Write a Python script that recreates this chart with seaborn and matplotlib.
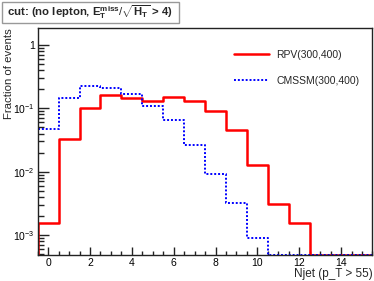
import numpy as np
import pandas as pd
import matplotlib
matplotlib.use("Agg")
import matplotlib.pyplot as plt
import matplotlib.ticker as mticker
from matplotlib.patches import Rectangle
import seaborn as sns

# Njet distribution, fraction of events per bin (bins centred on integers)
njet = list(range(16))
rpv = [0.00156, 0.0332, 0.100, 0.161, 0.146, 0.131, 0.151, 0.131,
       0.091, 0.045, 0.0126, 0.00313, 0.00156, 0.0, 0.0, 0.0]
cmssm = [0.0477, 0.146, 0.226, 0.210, 0.169, 0.110, 0.0656, 0.0264,
         0.0091, 0.00317, 0.000887, 0.0, 0.0, 0.0, 0.0, 0.0]
series_names = ["RPV(300,400)", "CMSSM(300,400)"]
ytick_vals = [1e-3, 1e-2, 1e-1, 1]
ytick_labels = ["$10^{-3}$", "$10^{-2}$", "$10^{-1}$", "1"]

sns.set_theme(style="ticks")
plt.rcParams["font.family"] = ["Liberation Sans", "DejaVu Sans"]
plt.rcParams["mathtext.fontset"] = "custom"
plt.rcParams["mathtext.rm"] = "Liberation Sans"
plt.rcParams["mathtext.it"] = "Liberation Sans:italic"
plt.rcParams["mathtext.bf"] = "Liberation Sans:bold"
plt.rcParams["xtick.minor.visible"] = True
plt.rcParams["ytick.minor.visible"] = True

ymin, ymax = 4.83e-4, 1.86

df = pd.DataFrame({"njet": njet, "rpv": rpv, "cmssm": cmssm})
# empty bins sit on the lower frame, as in ROOT
df["rpv_draw"] = df["rpv"].clip(lower=ymin)
df["cmssm_draw"] = df["cmssm"].clip(lower=ymin)

fig = plt.figure(figsize=(3.74, 2.81), dpi=100)
ax = fig.add_axes([0.1008, 0.0925, 0.895, 0.808])
ax.set_yscale("log")

styles = [("rpv_draw", "#ff0000", "-", 1.8), ("cmssm_draw", "#0000ff", (0, (1, 1)), 1.4)]
for (col, color, ls, lw), name in zip(styles, series_names):
    sns.histplot(data=df, x="njet", weights=col, discrete=True, element="step",
                 fill=False, color=color, linestyle=ls, linewidth=lw,
                 ax=ax, label=name)
    ax.vlines(df["njet"].iloc[0] - 0.5, ymin, df[col].iloc[0],
              color=color, linestyle=ls, linewidth=lw)

ax.set_xlim(-0.5, 15.5)
ax.set_ylim(ymin, ymax)

ax.set_yticks(ytick_vals)
ax.set_yticklabels(ytick_labels)
ax.yaxis.set_minor_locator(mticker.LogLocator(base=10, subs=np.arange(2, 10), numticks=20))
ax.yaxis.set_minor_formatter(mticker.NullFormatter())
ax.xaxis.set_major_locator(mticker.MultipleLocator(2))
ax.xaxis.set_minor_locator(mticker.MultipleLocator(0.5))

ax.tick_params(axis="both", which="both", direction="in", top=False, right=False,
               labelsize=7.5, color="#222222", labelcolor="black")
ax.tick_params(axis="y", which="major", length=8, width=1.0, pad=2)
ax.tick_params(axis="y", which="minor", length=4, width=1.0)
ax.tick_params(axis="x", which="major", length=6, width=1.0, pad=2)
ax.tick_params(axis="x", which="minor", length=3, width=1.0)
for s in ax.spines.values():
    s.set_color("#222222")
    s.set_linewidth(1.0)

ax.set_xlabel("Njet (p_T > 55)", fontsize=8.5, loc="right", labelpad=0)
ax.set_ylabel("Fraction of events", fontsize=8.2, loc="top")
ax.yaxis.set_label_coords(-0.07, 1.0)

ax.legend(loc="upper right", bbox_to_anchor=(0.99, 0.945), frameon=False,
          fontsize=7.5, handlelength=3.4, handletextpad=0.7, labelspacing=1.55)

# title box in the upper left corner
fig.patches.append(Rectangle((2 / 374, 1 - 23 / 281), 177 / 374, 21 / 281,
                             transform=fig.transFigure, facecolor="white",
                             edgecolor="#999999", linewidth=1.0))
fig.text(90 / 374, 1 - 12.5 / 281,
         r"cut: (no lepton, $\mathbf{E}_\mathbf{T}^\mathbf{miss}/\sqrt{\mathbf{H}_\mathbf{T}}$ > 4)",
         fontsize=8.2, fontweight="bold", ha="center", va="center")

fig.savefig("out.png", dpi=100)
